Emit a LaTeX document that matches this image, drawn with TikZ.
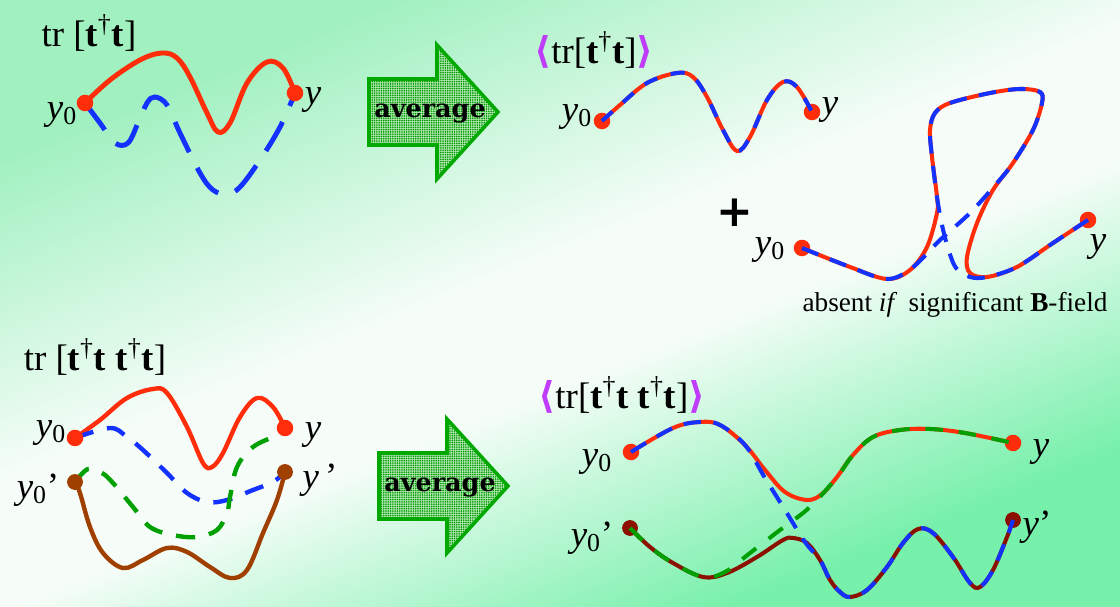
\documentclass[tikz,border=0pt]{standalone}
\usepackage{fontspec}
\setmainfont{Liberation Serif}
\newfontfamily\avgfont{DejaVu Serif}
\newfontfamily\plusfont{DejaVu Sans}
\usetikzlibrary{positioning, calc, patterns.meta}

\definecolor{pathred}{RGB}{255,45,10}
\definecolor{pathblue}{RGB}{20,50,255}
\definecolor{pathgreen}{RGB}{0,160,0}
\definecolor{pathbrown}{RGB}{160,64,0}
\definecolor{pathmaroon}{RGB}{140,16,0}
\definecolor{arrowgreen}{RGB}{0,168,0}
\definecolor{arrowfill}{RGB}{175,232,175}
\definecolor{bracketpurple}{RGB}{190,60,250}
\definecolor{bggreenA}{RGB}{160,240,192}
\definecolor{bggreenB}{RGB}{118,240,170}
\definecolor{bgwhite}{RGB}{246,253,248}

\pgfdeclareverticalshading{bgshade}{100bp}{color(0bp)=(bggreenB); color(27bp)=(bggreenB);
  color(45bp)=(bgwhite); color(53bp)=(bgwhite); color(73bp)=(bggreenA); color(100bp)=(bggreenA)}

\pgfdeclarelayer{bg}
\pgfdeclarelayer{lines}
\pgfsetlayers{bg,lines,main}

\newcommand{\tdag}{\textbf{t}\textsuperscript{†}\textbf{t}}
\newcommand{\yzero}{\textit{y}\textsubscript{0}}
\newcommand{\lb}{{\plusfont\bfseries\textcolor{bracketpurple}{⟨}}}
\newcommand{\rb}{{\plusfont\bfseries\textcolor{bracketpurple}{⟩}}}

\begin{document}
\begin{tikzpicture}[
  x=0.02cm, y=-0.02cm,
  tlabel/.style={font=\fontsize{21}{24}\selectfont, inner sep=0pt},
  ylbl/.style={font=\fontsize{21}{24}\selectfont, inner sep=0pt},
  dotred/.style={circle, fill=pathred, inner sep=0pt, minimum size=9.4pt},
  dotbrown/.style={circle, fill=pathbrown, inner sep=0pt, minimum size=9pt},
  dotmaroon/.style={circle, fill=pathmaroon, inner sep=0pt, minimum size=9pt},
  redthick/.style={pathred, line width=2.8pt, line cap=round},
  bluethick/.style={pathblue, line width=2.8pt, dash pattern=on 19pt off 10pt},
  redmid/.style={pathred, line width=2.5pt, line cap=round},
  brownmid/.style={pathbrown, line width=2.5pt, line cap=round},
  bluemid/.style={pathblue, line width=2.5pt, dash pattern=on 11pt off 8pt},
  greenmid/.style={pathgreen, line width=2.5pt, dash pattern=on 11pt off 8pt},
  mixline/.style={pathred, line width=2.3pt,
    postaction={draw=pathblue, line width=2.3pt, dash pattern=on 8pt off 8pt}},
  redthin/.style={pathred, line width=2.3pt},
  maroonthin/.style={pathmaroon, line width=2.3pt},
  bluethin/.style={pathblue, line width=2.3pt, dash pattern=on 10pt off 7pt},
  greenthin/.style={pathgreen, line width=2.3pt, dash pattern=on 10pt off 9pt},
  avgarrow/.style={draw=arrowgreen, line width=2pt, miter limit=20,
    preaction={fill=arrowfill},
    pattern={Dots[radius=0.5pt, distance=1.3pt]}, pattern color=arrowgreen!90!black},
  avgtext/.style={font=\avgfont\bfseries\fontsize{14.5}{16}\selectfont, inner sep=0pt},
  note/.style={font=\fontsize{15.5}{18}\selectfont, inner sep=0pt},
]

% ===== background =====
\begin{pgfonlayer}{bg}
  \shade[shading=bgshade, shading angle=22] (0,0) rectangle (1120,607);
\end{pgfonlayer}

% ===== tr[t^dag t], single path =====
\node[tlabel] (titleA) at (89,33) {tr [\tdag]};
\node[dotred] (A0) at (85,103) {};
\node[dotred] (A1) at (295,93) {};
\node[ylbl] (A0l) at ($(A0)+(-23,12)$) {\yzero};
\node[ylbl] (A1l) at ($(A1)+(18,7)$) {\textit{y}};
\begin{pgfonlayer}{lines}
  \draw[redthick] plot[smooth, tension=0.6] coordinates {(A0.center) (110,80) (140,60) (162,53)
    (177,58) (190,77) (207,113) (218,132) (230,123) (247,83) (267,62) (283,68) (A1.center)};
  \draw[bluethick] plot[smooth, tension=0.6] coordinates {(A0.center) (100,123) (115,143) (128,143)
    (138,123) (147,103) (155,97) (167,105) (180,133) (200,173) (213,190) (227,194) (240,187)
    (260,160) (280,127) (A1.center)};
\end{pgfonlayer}

% ===== average arrows =====
\begin{scope}[shift={(369,112)}]
  \draw[avgarrow] (0,-33) -- (68,-33) -- (68,-67) -- (129,0) -- (68,67) -- (68,33) -- (0,33) -- cycle;
\end{scope}
\node[avgtext] (avg1) at (430,114) {average};

\begin{scope}[shift={(379,486)}]
  \draw[avgarrow] (0,-33) -- (68,-33) -- (68,-67) -- (129,0) -- (68,67) -- (68,33) -- (0,33) -- cycle;
\end{scope}
\node[avgtext] (avg2) at (440,488) {average};

% ===== <tr[t^dag t]> =====
\node[tlabel] (titleB) at (594,50) {\lb tr[\tdag]\rb};
\node[dotred] (B0) at (602,121) {};
\node[dotred] (B1) at (812,112) {};
\node[ylbl] (B0l) at ($(B0)+(-25,-4)$) {\yzero};
\node[ylbl] (B1l) at ($(B1)+(18,-2)$) {\textit{y}};
\draw[mixline] plot[smooth, tension=0.6] coordinates {(B0.center) (620,105) (647,83) (677,73)
  (693,77) (707,97) (723,130) (737,151) (750,137) (767,100) (783,82) (797,87) (B1.center)};

\node[font=\plusfont\bfseries\fontsize{25}{25}\selectfont, inner sep=0pt] (plus) at (735,213) {+};

% loop pair
\node[dotred] (C0) at (802,248) {};
\node[dotred] (C1) at (1088,220) {};
\node[ylbl] (C0l) at ($(C0)+(-32,2)$) {\yzero};
\node[ylbl] (C1l) at ($(C1)+(10,27)$) {\textit{y}};
\draw[redthin] plot[smooth, tension=0.55] coordinates {(C0.center) (850,267) (887,279) (910,270)
  (927,247) (937,213) (937,197) (932,157) (930,130) (935,113) (950,103) (990,93) (1020,89)
  (1040,92) (1042,103) (1033,130) (1013,163) (993,190) (977,223) (967,257) (970,273) (987,277)
  (1017,267) (1053,243) (C1.center)};
\draw[bluethin] plot[smooth, tension=0.55] coordinates {(C0.center) (850,267) (887,279) (912,268)
  (940,240) (970,213) (997,183) (1013,163) (1033,130) (1042,103) (1040,92) (1020,89) (990,93)
  (950,103) (935,113) (930,130) (932,157) (937,197) (942,225) (948,248) (956,268) (970,277)
  (987,277) (1017,267) (1053,243) (C1.center)};
\node[note] (absent) at (955,305) {absent \textit{if}\, significant \textbf{B}-field};

% ===== tr[t^dag t t^dag t], two paths =====
\node[tlabel] (titleD) at (95,357) {tr [\tdag\ \tdag]};
\node[dotred] (D0) at (75,438) {};
\node[dotred] (D1) at (285,428) {};
\node[dotbrown] (D2) at (75,482) {};
\node[dotbrown] (D3) at (285,472) {};
\node[ylbl] (D0l) at ($(D0)+(-24,-5)$) {\yzero};
\node[ylbl] (D1l) at ($(D1)+(28,7)$) {\textit{y}};
\node[ylbl] (D2l) at ($(D2)+(-37,8)$) {\yzero’};
\node[ylbl] (D3l) at ($(D3)+(35,8)$) {\textit{y}\,’};
\begin{pgfonlayer}{lines}
  \draw[redmid] plot[smooth, tension=0.6] coordinates {(D0.center) (100,420) (127,398) (153,389)
    (167,393) (187,427) (203,463) (212,467) (223,453) (240,417) (257,398) (273,407) (D1.center)};
  \draw[brownmid] plot[smooth, tension=0.6] coordinates {(D2.center) (80,493) (90,527) (103,553)
    (123,568) (143,560) (167,548) (187,552) (210,567) (230,578) (247,570) (263,533) (277,500)
    (D3.center)};
  \draw[bluemid] plot[smooth, tension=0.6] coordinates {(D0.center) (110,428) (127,437) (143,450)
    (167,473) (187,493) (207,502) (227,500) (253,490) (273,482) (D3.center)};
  \draw[greenmid] plot[smooth, tension=0.6] coordinates {(D2.center) (88,469) (102,473) (113,483)
    (133,507) (150,527) (173,535) (197,537) (217,530) (227,513) (230,497) (237,467) (253,447)
    (277,435) (D1.center)};
\end{pgfonlayer}

% ===== <tr[t^dag t t^dag t]> =====
\node[tlabel] (titleE) at (622,395) {\lb tr[\tdag\ \tdag]\rb};
\node[dotred] (E0) at (631,452) {};
\node[dotred] (E1) at (1013,443) {};
\node[dotmaroon] (E2) at (630,528) {};
\node[dotmaroon] (E3) at (1013,520) {};
\node[ylbl] (E0l) at ($(E0)+(-34,10)$) {\yzero};
\node[ylbl] (E1l) at ($(E1)+(28,9)$) {\textit{y}};
\node[ylbl] (E2l) at ($(E2)+(-38,10)$) {\yzero’};
\node[ylbl] (E3l) at ($(E3)+(24,7)$) {\textit{y}’};
\draw[redthin] plot[smooth, tension=0.6] coordinates {(E0.center) (673,428) (700,422) (720,425)
  (745,445) (765,470) (785,492) (807,500) (822,494) (837,477) (853,455) (873,437) (900,430)
  (930,429) (965,433) (E1.center)};
\draw[maroonthin] plot[smooth, tension=0.6] coordinates {(E2.center) (650,547) (673,563) (703,577)
  (727,573) (757,557) (783,540) (793,538) (807,543) (820,560) (830,580) (840,592) (850,597)
  (867,590) (887,567) (903,543) (918,529) (933,533) (953,557) (970,583) (980,587) (993,570)
  (1007,537) (E3.center)};
\draw[bluethin] plot[smooth, tension=0.6] coordinates {(E0.center) (673,428) (700,422) (720,425)
  (745,445) (765,478) (785,510) (805,542) (820,560) (830,580) (840,592) (850,597) (867,590)
  (887,567) (903,543) (918,529) (933,533) (953,557) (970,583) (980,587) (993,570) (1007,537)
  (E3.center)};
\draw[greenthin] plot[smooth, tension=0.6] coordinates {(E2.center) (650,547) (673,563) (703,577)
  (725,572) (750,553) (780,530) (810,507) (837,477) (853,455) (873,437) (900,430) (930,429)
  (965,433) (E1.center)};

\end{tikzpicture}
\end{document}
